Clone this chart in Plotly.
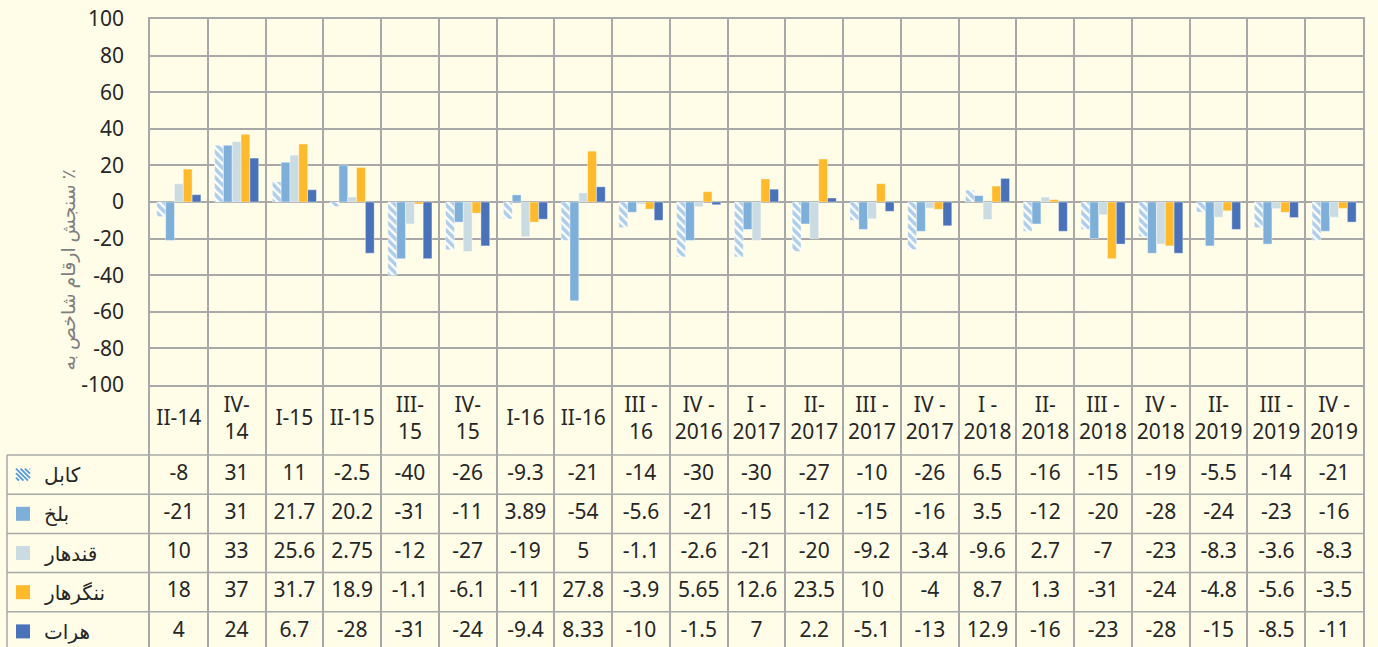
import plotly.graph_objects as go

# 期間ラベル
categories = ["II-14", "IV-<br>14", "I-15", "II-15", "III-<br>15", "IV-<br>15", "I-16", "II-16",
              "III -<br>16", "IV -<br>2016", "I -<br>2017", "II-<br>2017", "III -<br>2017",
              "IV -<br>2017", "I -<br>2018", "II-<br>2018", "III -<br>2018", "IV -<br>2018",
              "II-<br>2019", "III -<br>2019", "IV -<br>2019"]

kabul = [-8, 31, 11, -2.5, -40, -26, -9.3, -21, -14, -30, -30, -27, -10, -26, 6.5, -16, -15, -19, -5.5, -14, -21]
balkh = [-21, 31, 21.7, 20.2, -31, -11, 3.89, -54, -5.6, -21, -15, -12, -15, -16, 3.5, -12, -20, -28, -24, -23, -16]
kandahar = [10, 33, 25.6, 2.75, -12, -27, -19, 5, -1.1, -2.6, -21, -20, -9.2, -3.4, -9.6, 2.7, -7, -23, -8.3, -3.6, -8.3]
nangarhar = [18, 37, 31.7, 18.9, -1.1, -6.1, -11, 27.8, -3.9, 5.65, 12.6, 23.5, 10, -4, 8.7, 1.3, -31, -24, -4.8, -5.6, -3.5]
herat = [4, 24, 6.7, -28, -31, -24, -9.4, 8.33, -10, -1.5, 7, 2.2, -5.1, -13, 12.9, -16, -23, -28, -15, -8.5, -11]

series_names = ["کابل", "بلخ", "قندهار", "ننگرهار", "هرات"]
series_values = [kabul, balkh, kandahar, nangarhar, herat]
series_colors = ["#5B9BD5", "#7DAFD9", "#CADCE2", "#FFBA2B", "#4A72B8"]

y_ticks = [-100, -80, -60, -40, -20, 0, 20, 40, 60, 80, 100]
y_title = "سنجش ارقام شاخص به ٪"

W, H = 1378, 647
BG = "#FFFDE7"
GRID = "#A8A8A8"
TXT = "#262626"
FONT = "Noto Sans, DejaVu Sans, sans-serif"

# 画面座標 -> paper
def px(x):
    return x / W

def py(y):
    return 1 - y / H

x_left, x_right = 150, 1363
y_top, y_axis_bottom = 19, 385
header_h, row_h = 70, 39.2
table_h = H - y_axis_bottom

idx = list(range(len(categories)))

fig = go.Figure()

# 棒グラフ
for i, (name, vals) in enumerate(zip(series_names, series_values)):
    marker = dict(color=series_colors[i], line=dict(color="rgba(255,255,255,0.5)", width=0.8))
    if i == 0:
        marker["pattern"] = dict(shape="\\", fgcolor=series_colors[0], bgcolor="#FFFFFF",
                                 size=6, solidity=0.6)
    fig.add_trace(go.Bar(x=idx, y=vals, name=name, marker=marker, xaxis="x", yaxis="y",
                         showlegend=False, hoverinfo="skip"))

# データテーブル（見出し行）
fig.add_trace(go.Scatter(x=idx, y=[header_h / 2] * len(idx), text=categories, mode="text",
                         textfont=dict(size=21, color=TXT, family=FONT), xaxis="x2", yaxis="y2",
                         showlegend=False, hoverinfo="skip", cliponaxis=False))

# データテーブル（値）
for r, vals in enumerate(series_values):
    yc = header_h + row_h * r + row_h / 2
    fig.add_trace(go.Scatter(x=idx, y=[yc] * len(idx), text=[f"{v:g}" for v in vals], mode="text",
                             textfont=dict(size=21, color=TXT, family=FONT), xaxis="x2", yaxis="y2",
                             showlegend=False, hoverinfo="skip", cliponaxis=False))
    fig.add_annotation(x=px(42), y=yc, xref="paper", yref="y2", text=series_names[r],
                       showarrow=False, xanchor="left", yanchor="middle",
                       font=dict(size=20, color=TXT, family=FONT))
    # 凡例キー
    if r == 0:
        fig.add_shape(type="rect", xref="paper", yref="y2", x0=px(16), x1=px(30),
                      y0=yc - 6, y1=yc + 6, fillcolor="#FFFFFF", line=dict(width=0))
        for k in range(-3, 4):
            xa, xb = 16 + k * 4.5, 16 + k * 4.5 + 12
            x0c, x1c = max(xa, 16), min(xb, 30)
            if x1c <= x0c:
                continue
            fig.add_shape(type="line", xref="paper", yref="y2",
                          x0=px(x0c), x1=px(x1c),
                          y0=yc - 6 + (x0c - xa), y1=yc - 6 + (x1c - xa),
                          line=dict(color=series_colors[0], width=2))
    else:
        fig.add_shape(type="rect", xref="paper", yref="y2", x0=px(16), x1=px(30),
                      y0=yc - 7, y1=yc + 7, fillcolor=series_colors[r], line=dict(width=0))

# テーブルの罫線
for r in range(len(series_values) + 1):
    yl = header_h + row_h * r
    fig.add_shape(type="line", xref="paper", yref="y2", x0=px(7), x1=px(x_right),
                  y0=yl, y1=yl, line=dict(color=GRID, width=1.5))
fig.add_shape(type="line", xref="paper", yref="y2", x0=px(7), x1=px(7),
              y0=header_h, y1=table_h, line=dict(color=GRID, width=1.5))

# 縦軸タイトル
fig.add_annotation(x=px(52), y=py(168), xref="paper", yref="paper", text=y_title,
                   textangle=-90, showarrow=False, font=dict(size=19, color="#7F7F7F", family=FONT))

boundaries = [i - 0.5 for i in range(len(categories) + 1)]

fig.update_layout(
    width=W, height=H,
    margin=dict(l=0, r=0, t=0, b=0, autoexpand=False),
    paper_bgcolor=BG, plot_bgcolor=BG,
    barmode="group", bargap=0.237, bargroupgap=0,
    font=dict(family=FONT, color=TXT),
    xaxis=dict(domain=[px(x_left), px(x_right)], range=[-0.5, len(categories) - 0.5],
               tickvals=boundaries, showticklabels=False, ticks="", showgrid=True,
               gridcolor=GRID, gridwidth=1.5, showline=True, mirror=True, linecolor=GRID,
               linewidth=1.5, zeroline=False, anchor="y"),
    yaxis=dict(domain=[py(y_axis_bottom), py(y_top)], range=[-100, 100],
               tickvals=y_ticks, ticktext=[str(v) for v in y_ticks],
               showgrid=True, gridcolor=GRID, gridwidth=1.5, zeroline=True, zerolinecolor=GRID,
               zerolinewidth=1.5, showline=True, mirror=True, linecolor=GRID, linewidth=1.5,
               tickfont=dict(size=21, color=TXT), ticks="", ticklabelstandoff=20, anchor="x"),
    xaxis2=dict(domain=[px(x_left), px(x_right)], range=[-0.5, len(categories) - 0.5],
                tickvals=boundaries, showticklabels=False, ticks="", showgrid=True,
                gridcolor=GRID, gridwidth=1.5, zeroline=False, anchor="y2"),
    yaxis2=dict(domain=[0, py(y_axis_bottom)], range=[table_h, 0], showticklabels=False,
                ticks="", showgrid=False, zeroline=False, showline=True, mirror=True,
                linecolor=GRID, linewidth=1.5, anchor="x2"),
)

fig.write_html("out.html", config={"displayModeBar": False},
               post_script="document.body.style.margin='0';")
